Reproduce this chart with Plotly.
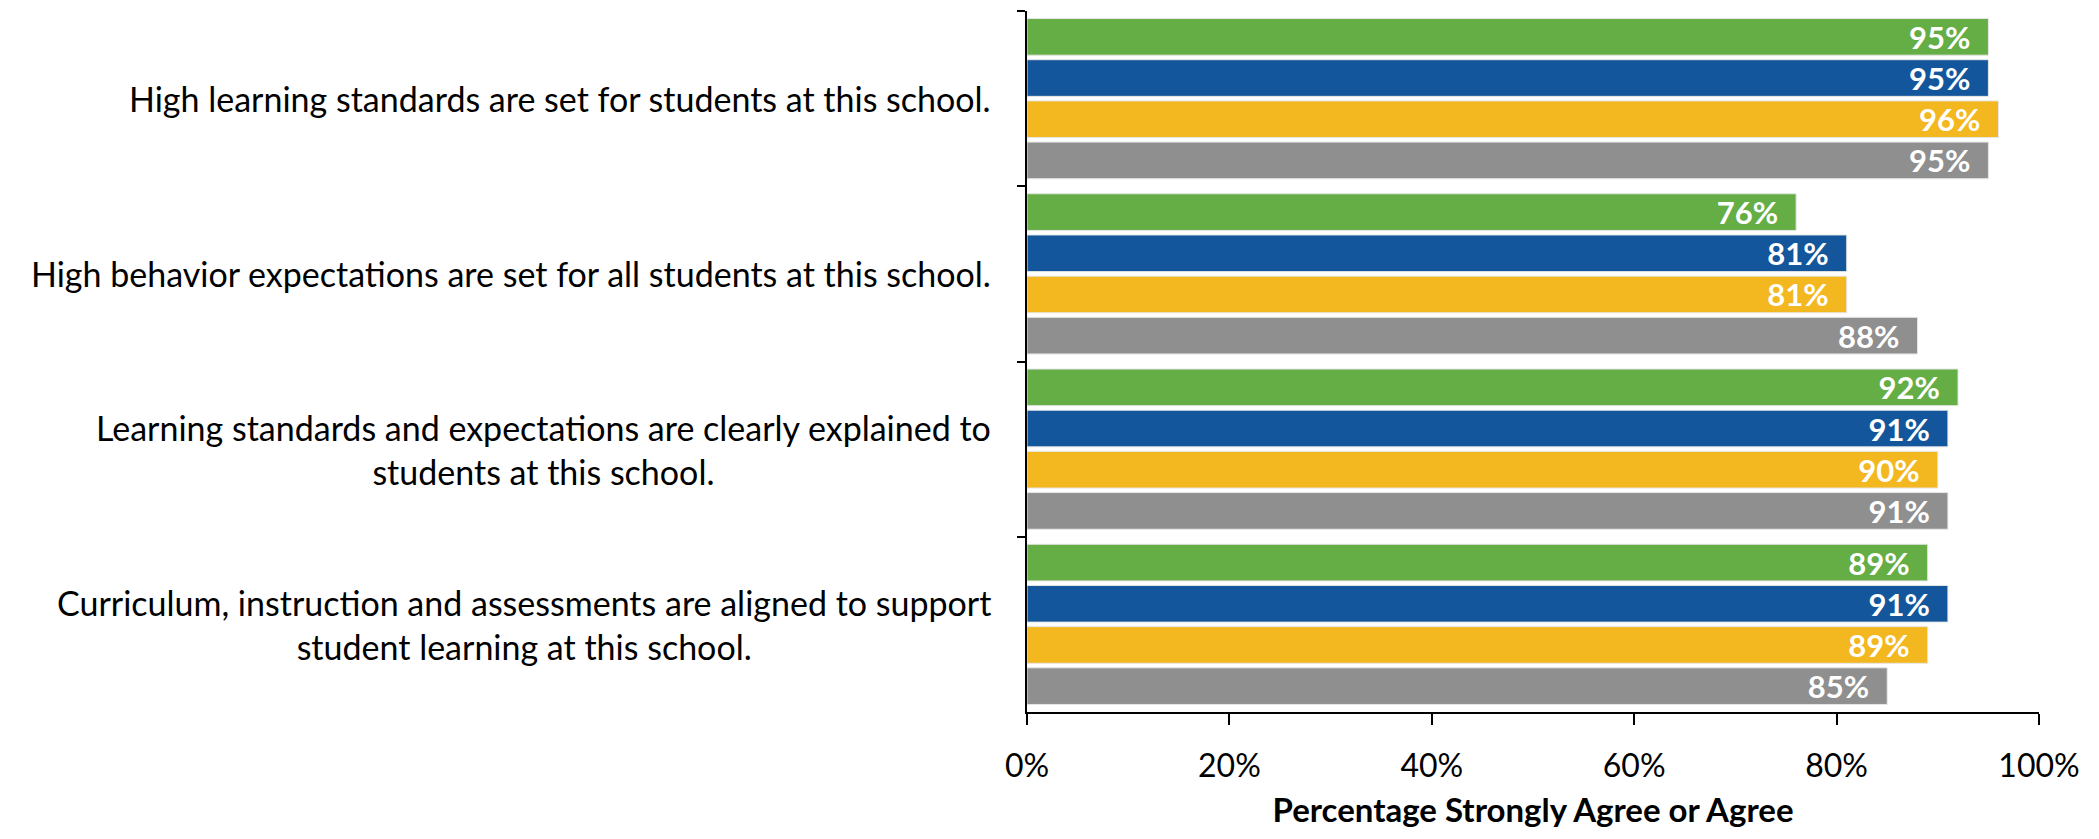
import plotly.graph_objects as go

categories = [
    "High learning standards are set for students at this school.",
    "High behavior expectations are set for all students at this school.",
    "Learning standards and expectations are clearly explained to<br>students at this school.",
    "Curriculum, instruction and assessments are aligned to support<br>student learning at this school.",
]
series_names = ["Series 1", "Series 2", "Series 3", "Series 4"]
series_values = [
    [95, 76, 92, 89],
    [95, 81, 91, 91],
    [96, 81, 90, 89],
    [95, 88, 91, 85],
]
colors = ["#65AD45", "#13569B", "#F3B71F", "#8F8F8F"]
x_ticks = [0, 20, 40, 60, 80, 100]
x_tick_labels = ["0%", "20%", "40%", "60%", "80%", "100%"]
x_title = "Percentage Strongly Agree or Agree"

FONT = "Lato"
PAD = "\u00a0\u00a0"

fig = go.Figure()
for name, vals, col in zip(series_names, series_values, colors):
    fig.add_trace(go.Bar(
        y=categories, x=vals, name=name, orientation="h",
        marker=dict(color=col, line=dict(color="#E6E6E6", width=1)),
        text=[f"{v}%{PAD}" for v in vals], textposition="inside",
        insidetextanchor="end", constraintext="none", textangle=0,
        textfont=dict(family=FONT, size=31, color="white", weight="bold"),
    ))

for c in categories:
    fig.add_annotation(
        x=0, xref="paper", y=c, yref="y", text=c, showarrow=False,
        xanchor="right", yanchor="middle", align="center", xshift=-34,
        font=dict(family=FONT, size=34, color="black"),
    )

fig.update_layout(
    barmode="group", bargap=0.06, bargroupgap=0.11,
    width=2099, height=839,
    margin=dict(l=1027, r=60, t=11, b=127),
    plot_bgcolor="white", paper_bgcolor="white",
    showlegend=False,
    xaxis=dict(
        range=[0, 100], tickvals=x_ticks, ticktext=x_tick_labels,
        automargin=False,
        showgrid=False, zeroline=False,
        showline=True, linecolor="black", linewidth=2,
        ticks="outside", ticklen=11, tickwidth=2, tickcolor="black",
        ticklabelstandoff=14,
        tickfont=dict(family=FONT, size=32, color="black"),
        title=dict(text=x_title,
                   font=dict(family=FONT, size=33, color="black", weight="bold")),
    ),
    yaxis=dict(
        autorange="reversed", showticklabels=False, showgrid=False,
        automargin=False,
        showline=True, linecolor="black", linewidth=2,
        ticks="outside", tickson="boundaries", ticklen=8, tickwidth=2,
        tickcolor="black",
    ),
)

fig.write_html("out.html", config={"displayModeBar": False},
               post_script="document.body.style.margin='0';document.body.style.overflow='hidden';")
